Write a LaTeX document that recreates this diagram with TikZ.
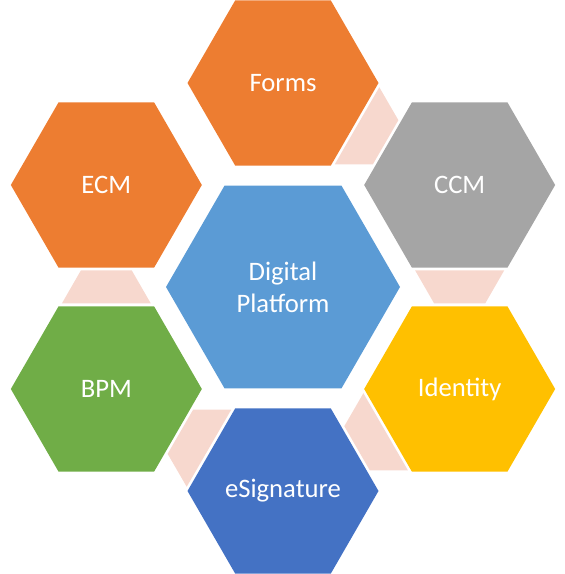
\documentclass[tikz,border=0pt]{standalone}
\usepackage{fontspec}
\setmainfont{Carlito}
\usetikzlibrary{shapes.geometric,calc}
\definecolor{hexOrange}{RGB}{237, 125, 49}
\definecolor{hexGrey}{RGB}{165, 165, 165}
\definecolor{hexGold}{RGB}{255, 192, 0}
\definecolor{hexBlue}{RGB}{68, 114, 196}
\definecolor{hexGreen}{RGB}{112, 173, 71}
\definecolor{hexSky}{RGB}{91, 155, 213}
\definecolor{linkPink}{RGB}{247, 216, 206}

\begin{document}
\begin{tikzpicture}[
  x=0.75pt, y=0.75pt,
  hexa/.style={
    regular polygon,
    regular polygon sides=6,
    minimum size=143.25pt,
    inner sep=0pt,
    align=center,
    text=white,
    font=\fontsize{20}{24}\selectfont
  },
  hub/.style={hexa,minimum size=175.5pt},
  link/.pic={
    \fill[linkPink] (-44.5,-16.5) -- (44.5,-16.5) -- (25.5,16.5) -- (-25.5,16.5) -- cycle;
  }
]
  \useasboundingbox (0,0) rectangle (564,574);
  \node[hub,fill=hexSky] (platform) at (283,287) {Digital\\Platform};
  \node[hexa,fill=hexOrange] (forms) at ($(platform)+(90:204)$) {Forms};
  \node[hexa,fill=hexGrey] (ccm) at ($(platform)+(30:204)$) {CCM};
  \node[hexa,fill=hexGold] (identity) at ($(platform)+(-30:204)$) {Identity};
  \node[hexa,fill=hexBlue] (esignature) at ($(platform)+(-90:204)$) {eSignature};
  \node[hexa,fill=hexGreen] (bpm) at ($(platform)+(210:204)$) {BPM};
  \node[hexa,fill=hexOrange] (ecm) at ($(platform)+(150:204)$) {ECM};
  % links between neighbours
  \pic[rotate=0] (ecmbpm) at ($(ecm)!0.5!(bpm)$) {link};
  \pic[rotate=60] (bpmesig) at ($(bpm)!0.5!(esignature)$) {link};
  \pic[rotate=120] (esigid) at ($(esignature)!0.5!(identity)$) {link};
  \pic[rotate=180] (idccm) at ($(identity)!0.5!(ccm)$) {link};
  \pic[rotate=240] (ccmforms) at ($(ccm)!0.5!(forms)$) {link};
\end{tikzpicture}
\end{document}
